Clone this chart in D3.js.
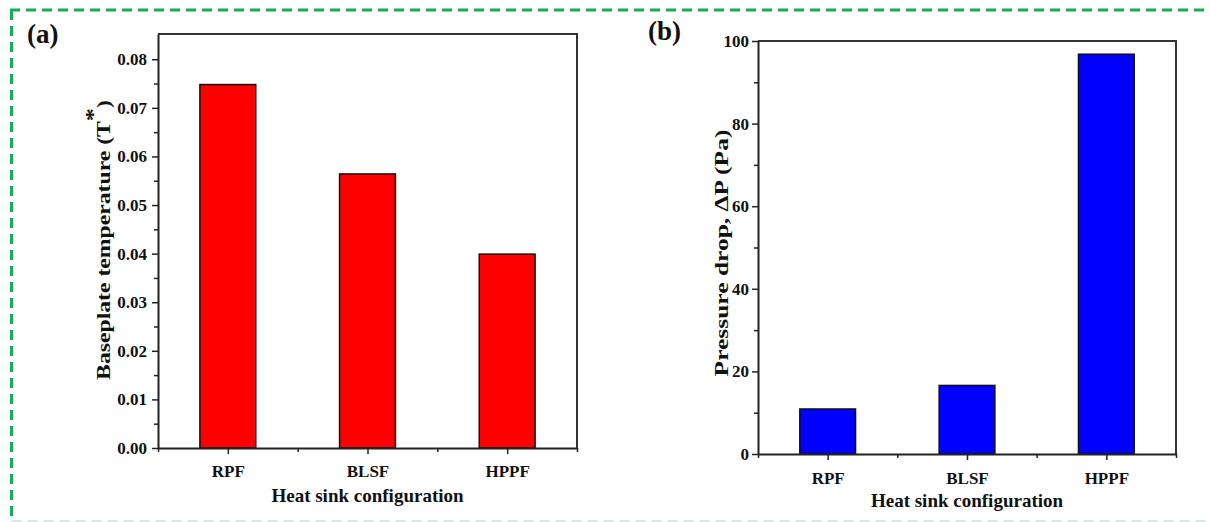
<!DOCTYPE html>
<html lang="en">

<head>
  <meta charset="UTF-8">
  <title>Heat sink configuration</title>
  <style>
    body { margin: 0; background: #fff; }
    svg text { font-family: "Liberation Serif", "Times New Roman", serif; font-weight: bold; fill: #111; }
  </style>
</head>

<body>

  <div id="chart"></div>

  <script src="https://cdnjs.cloudflare.com/ajax/libs/d3/7.8.5/d3.min.js"></script>

  <script>

    // data
    const configs = ["RPF", "BLSF", "HPPF"];
    const baseTemp = [0.0748, 0.0564, 0.0399];
    const pressureDrop = [10.9, 16.6, 96.8];
    const tempTicks = [0, 0.01, 0.02, 0.03, 0.04, 0.05, 0.06, 0.07, 0.08];
    const tempMinor = [0.005, 0.015, 0.025, 0.035, 0.045, 0.055, 0.065, 0.075];
    const pressTicks = [0, 20, 40, 60, 80, 100];
    const pressMinor = [10, 30, 50, 70, 90];

    const W = 1210, H = 522;

    const svg = d3.select("#chart").append("svg")
      .attr("width", W)
      .attr("height", H);

    // green dashed frame
    svg.append("line")
      .attr("x1", 10).attr("y1", 10).attr("x2", W).attr("y2", 10)
      .attr("stroke", "#12b04e").attr("stroke-width", 3).attr("stroke-dasharray", "10,6");
    svg.append("line")
      .attr("x1", 11.5).attr("y1", 10).attr("x2", 11.5).attr("y2", H)
      .attr("stroke", "#12b04e").attr("stroke-width", 3).attr("stroke-dasharray", "10,6");
    svg.append("line")
      .attr("x1", 11.5).attr("y1", 521).attr("x2", W).attr("y2", 521)
      .attr("stroke", "#cdeee2").attr("stroke-width", 2).attr("stroke-dasharray", "10,6");

    function panel(opt) {
      const g = svg.append("g");

      const x = d3.scaleLinear().domain([0.5, 3.5]).range([opt.left, opt.right]);
      const y = d3.scaleLinear().domain(opt.domain).range([opt.bottom, opt.top]);
      const bw = (x(2) - x(1)) * 0.4;

      // bars
      g.selectAll(".bar")
        .data(opt.values)
        .enter()
        .append("rect")
        .attr("class", "bar")
        .attr("x", (d, i) => x(i + 1) - bw / 2)
        .attr("y", d => y(d))
        .attr("width", bw)
        .attr("height", d => y(0) - y(d))
        .attr("fill", opt.color)
        .attr("stroke", "#111")
        .attr("stroke-width", 1.5);

      // frame (top + right)
      g.append("path")
        .attr("d", `M${opt.left},${opt.top}H${opt.right}V${opt.bottom}`)
        .attr("fill", "none")
        .attr("stroke", "#333")
        .attr("stroke-width", 2);

      // y axis
      const yAxis = g.append("g")
        .attr("transform", `translate(${opt.left},0)`)
        .call(d3.axisLeft(y).tickValues(opt.ticks).tickFormat(opt.fmt).tickSize(6).tickPadding(opt.yPad).tickSizeOuter(0));
      g.append("g")
        .attr("transform", `translate(${opt.left},0)`)
        .call(d3.axisLeft(y).tickValues(opt.minor).tickFormat("").tickSize(4).tickSizeOuter(0))
        .call(a => a.select(".domain").remove());

      // x axis
      const xAxis = g.append("g")
        .attr("transform", `translate(0,${opt.bottom})`)
        .call(d3.axisBottom(x).tickValues([1, 2, 3]).tickFormat(d => configs[d - 1]).tickSize(6).tickPadding(opt.xPad).tickSizeOuter(0));
      g.append("g")
        .attr("transform", `translate(0,${opt.bottom})`)
        .call(d3.axisBottom(x).tickValues([0.5, 1.5, 2.5, 3.5]).tickFormat("").tickSize(4).tickSizeOuter(0))
        .call(a => a.select(".domain").remove());

      g.selectAll(".domain").attr("stroke", "#222").attr("stroke-width", 2);
      g.selectAll(".tick line").attr("stroke", "#222").attr("stroke-width", 1.5);
      g.selectAll(".tick text")
        .attr("font-family", "Liberation Serif, serif")
        .attr("font-weight", "bold")
        .attr("font-size", "17px")
        .attr("fill", "#111");

      // x title
      g.append("text")
        .attr("x", (opt.left + opt.right) / 2)
        .attr("y", opt.xTitleY)
        .attr("text-anchor", "middle")
        .attr("font-size", "19px")
        .text("Heat sink configuration");

      // y title, stretched along its length like the original
      const yt = g.append("text")
        .attr("text-anchor", "middle")
        .attr("dominant-baseline", "central")
        .attr("font-size", "18px");
      opt.yTitle(yt);
      const len = yt.node().getComputedTextLength();
      const sx = opt.yTitleLen / len;
      yt.attr("transform", `translate(${opt.yTitleX},${opt.yTitleC}) rotate(-90) scale(${sx},1)`);

      // panel letter
      g.append("text")
        .attr("x", opt.labelX)
        .attr("y", opt.labelY)
        .attr("font-size", "27px")
        .text(opt.label);
    }

    panel({
      left: 158, right: 577, top: 34, bottom: 448,
      domain: [0, 0.0852],
      values: baseTemp,
      color: "#ff0000",
      ticks: tempTicks, minor: tempMinor,
      fmt: d3.format(".2f"),
      yPad: 5, xPad: 11,
      xTitleY: 502,
      yTitleX: 104, yTitleC: 240, yTitleLen: 280,
      yTitle: t => {
        t.append("tspan").text("Baseplate temperature (T");
        t.append("tspan").attr("baseline-shift", "super").attr("font-size", "20px").text("*");
        t.append("tspan").text(")");
      },
      label: "(a)", labelX: 27, labelY: 43
    });

    panel({
      left: 758, right: 1176, top: 41, bottom: 454,
      domain: [0, 100],
      values: pressureDrop,
      color: "#0000ff",
      ticks: pressTicks, minor: pressMinor,
      fmt: d3.format("d"),
      yPad: 3, xPad: 12,
      xTitleY: 507,
      yTitleX: 722, yTitleC: 253, yTitleLen: 247,
      yTitle: t => t.text("Pressure drop, \u0394P (Pa)"),
      label: "(b)", labelX: 648, labelY: 40
    });

  </script>

</body>

</html>
